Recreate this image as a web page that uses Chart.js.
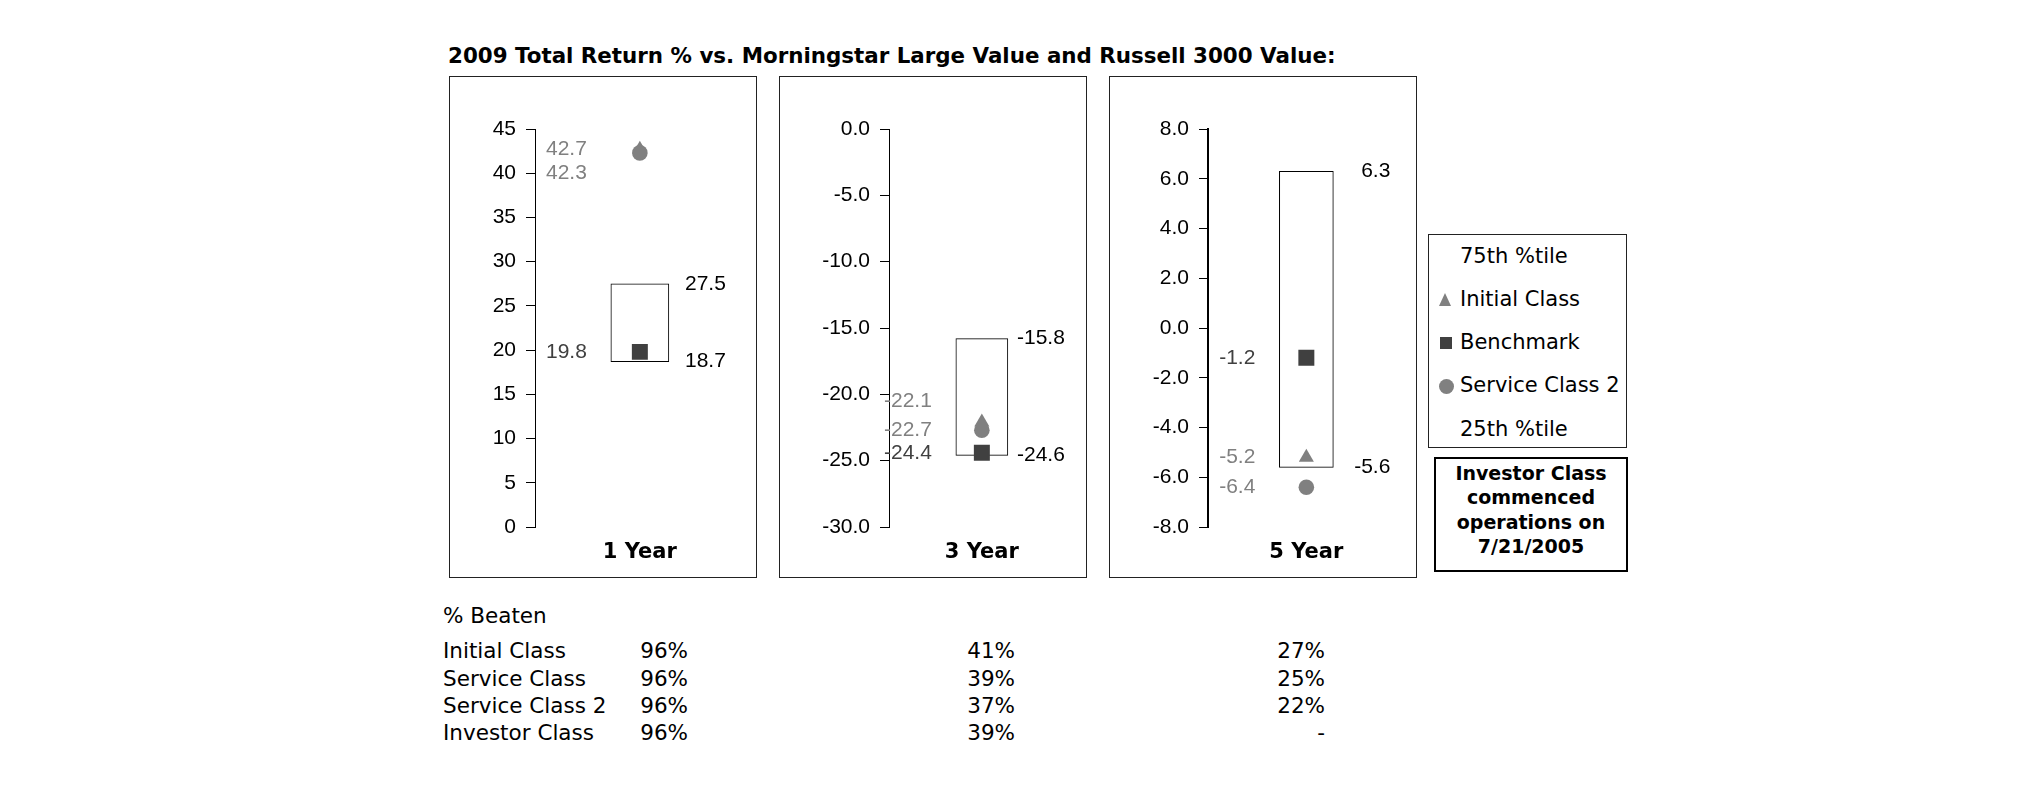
<!DOCTYPE html>
<html><head><meta charset="utf-8">
<script src="https://cdn.jsdelivr.net/npm/chart.js@4.4.1/dist/chart.umd.min.js"></script>
<style>
html,body{margin:0;padding:0;background:#fff;width:2025px;height:806px;overflow:hidden;position:relative;font-family:'DejaVu Sans',sans-serif;color:#000;}
.abs{position:absolute;white-space:nowrap;}
#title{left:448px;top:43px;font:bold 21.4px 'DejaVu Sans';line-height:25px;}
.frame{position:absolute;top:76px;width:306px;height:500px;border:1px solid #222;}
.frame canvas{position:absolute;left:0;top:0;}
#legend{position:absolute;left:1428px;top:234px;width:197px;height:212px;border:1px solid #222;}
.lg{position:absolute;left:1460px;font:21px 'DejaVu Sans';line-height:25px;white-space:nowrap;}
.mk{position:absolute;}
#note{position:absolute;left:1434px;top:457px;width:190px;height:109px;padding-top:2px;border:2px solid #000;text-align:center;font:bold 19px 'DejaVu Sans';line-height:24.4px;}
.tb{position:absolute;font:21.5px 'DejaVu Sans';line-height:25px;white-space:nowrap;}
</style></head>
<body>
<div id="title" class="abs">2009 Total Return % vs. Morningstar Large Value and Russell 3000 Value:</div>
<div class="frame" style="left:449px"><canvas id="c0" width="306" height="500"></canvas></div>
<div class="frame" style="left:779px"><canvas id="c1" width="306" height="500"></canvas></div>
<div class="frame" style="left:1109px"><canvas id="c2" width="306" height="500"></canvas></div>
<div id="legend"></div>
<div id="note">Investor Class<br>commenced<br>operations on<br>7/21/2005</div>
<div id="table"></div>
<script>
// ---- data ----
const categories = ['1 Year', '3 Year', '5 Year'];
const pct75 = [27.5, -15.8, 6.3];
const pct25 = [18.7, -24.6, -5.6];
const initialClass = [42.7, -22.1, -5.2];
const benchmark = [19.8, -24.4, -1.2];
const serviceClass2 = [42.3, -22.7, -6.4];
const axisMin = [0, -30, -8];
const axisMax = [45, 0, 8];
const axisStep = [5, 5, 2];
const tickDecimals = [0, 1, 1];
const legendLabels = ['75th %tile', 'Initial Class', 'Benchmark', 'Service Class 2', '25th %tile'];
const beatenTitle = '% Beaten';
const beatenRows = ['Initial Class', 'Service Class', 'Service Class 2', 'Investor Class'];
const beaten1Yr = ['96%', '96%', '96%', '96%'];
const beaten3Yr = ['41%', '39%', '37%', '39%'];
const beaten5Yr = ['27%', '25%', '22%', '-'];

// ---- layout / style ----
const axisWidth = [85, 109, 98];
const barWidth = [58, 52, 54];
const rightPad = [9, 9, 10];
const axisLineWidth = [1, 1, 2];
const initDy = [0, -21, 0];
const svc2Dy = [20, 0, 0];
const GRAY = '#808080', DARK = '#404040';
const NUM_FONT = "'Liberation Sans', Arial, sans-serif";
const NUM_SIZE = 21;

const valueLabels = {
  id: 'valueLabels',
  afterDatasetsDraw(chart, args, opts) {
    const ctx = chart.ctx, y = chart.scales.y;
    const bar = chart.getDatasetMeta(0).data[0];
    const left = bar.x - bar.width / 2, right = bar.x + bar.width / 2;
    ctx.save();
    ctx.font = NUM_SIZE + 'px ' + NUM_FONT;
    ctx.textBaseline = 'middle';
    ctx.textAlign = 'right';
    ctx.fillStyle = '#000';
    const [lo, hi] = chart.data.datasets[0].data[0];
    ctx.fillText(hi.toFixed(1), right + opts.rightGap, y.getPixelForValue(hi));
    ctx.fillText(lo.toFixed(1), right + opts.rightGap, y.getPixelForValue(lo));
    chart.data.datasets.forEach((ds, i) => {
      if (i === 0) return;
      const v = ds.data[0];
      ctx.fillStyle = ds.labelColor;
      ctx.fillText(v.toFixed(1), left - opts.leftGap, y.getPixelForValue(v) + (ds.labelDy || 0));
    });
    ctx.restore();
  }
};

categories.forEach((cat, i) => {
  new Chart(document.getElementById('c' + i), {
    type: 'bar',
    data: {
      labels: [cat],
      datasets: [
        { label: 'Percentile range', data: [[pct25[i], pct75[i]]], backgroundColor: '#fff',
          borderColor: '#000', borderWidth: 1, borderSkipped: false, barThickness: barWidth[i], order: 5 },
        { type: 'line', label: 'Initial Class', data: [initialClass[i]], showLine: false,
          pointStyle: 'triangle', pointRadius: 8.7, backgroundColor: GRAY, borderColor: GRAY, borderWidth: 0,
          labelColor: GRAY, labelDy: initDy[i], order: 2 },
        { type: 'line', label: 'Benchmark', data: [benchmark[i]], showLine: false,
          pointStyle: 'rect', pointRadius: 11.3, backgroundColor: DARK, borderColor: DARK, borderWidth: 0,
          labelColor: DARK, labelDy: 0, order: 1 },
        { type: 'line', label: 'Service Class 2', data: [serviceClass2[i]], showLine: false,
          pointStyle: 'circle', pointRadius: 7.8, backgroundColor: GRAY, borderColor: GRAY, borderWidth: 0,
          labelColor: GRAY, labelDy: svc2Dy[i], order: 3 }
      ]
    },
    options: {
      responsive: false, animation: false, devicePixelRatio: 1,
      layout: { padding: { left: 0, right: rightPad[i], top: 52, bottom: 12 } },
      plugins: { legend: { display: false }, tooltip: { enabled: false },
        valueLabels: { leftGap: 24, rightGap: 57 } },
      scales: {
        x: { type: 'category', offset: true,
          afterFit: (s) => { s.height = 38; },
          grid: { display: false, drawTicks: false }, border: { display: false },
          ticks: { padding: 13, color: '#000', font: { family: 'DejaVu Sans', size: 21, weight: 'bold' } } },
        y: { min: axisMin[i], max: axisMax[i],
          afterFit: (s) => { s.width = axisWidth[i]; },
          grid: { drawOnChartArea: false, drawTicks: true, tickLength: 9, color: '#000', lineWidth: 1 },
          border: { display: true, color: '#000', width: axisLineWidth[i] },
          ticks: { stepSize: axisStep[i], padding: 10, color: '#000', autoSkip: false,
            font: { family: NUM_FONT, size: NUM_SIZE },
            callback: (v) => Number(v).toFixed(tickDecimals[i]) } }
      }
    },
    plugins: [valueLabels]
  });
});

// legend
const lgCenters = [256.7, 299, 342.3, 385.7, 429];
legendLabels.forEach((t, k) => {
  const d = document.createElement('div');
  d.className = 'lg'; d.textContent = t; d.style.top = (lgCenters[k] - 12.5) + 'px';
  document.body.appendChild(d);
});
const mk = (css) => { const d = document.createElement('div'); d.className = 'mk'; d.style.cssText += css; document.body.appendChild(d); };
mk('left:1439px;top:293px;width:0;height:0;border-left:6.5px solid transparent;border-right:6.5px solid transparent;border-bottom:13px solid ' + GRAY + ';');
mk('left:1440px;top:336.5px;width:12px;height:12px;background:' + DARK + ';');
mk('left:1439px;top:379px;width:15px;height:15px;border-radius:50%;background:' + GRAY + ';');

// table
const tbl = (text, x, yc, align) => {
  const d = document.createElement('div');
  d.className = 'tb'; d.textContent = text; d.style.top = (yc - 12.5) + 'px';
  if (align === 'right') { d.style.right = (2025 - x) + 'px'; } else { d.style.left = x + 'px'; }
  document.body.appendChild(d);
};
tbl(beatenTitle, 443, 615, 'left');
const rowY = [650.5, 678, 705.3, 732.8];
beatenRows.forEach((r, k) => {
  tbl(r, 443, rowY[k], 'left');
  tbl(beaten1Yr[k], 688, rowY[k], 'right');
  tbl(beaten3Yr[k], 1015, rowY[k], 'right');
  tbl(beaten5Yr[k], 1325, rowY[k], 'right');
});
</script>
</body></html>
